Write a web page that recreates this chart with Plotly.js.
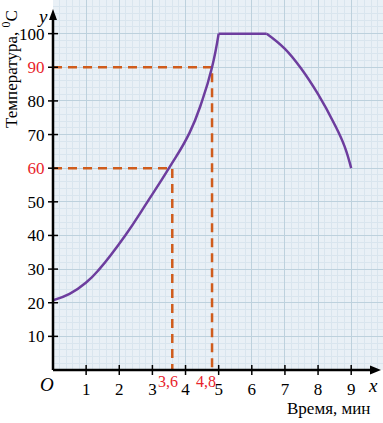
<!DOCTYPE html>
<html>
<head>
<meta charset="utf-8">
<script src="https://cdn.plot.ly/plotly-3.0.1.min.js"></script>
<style>html,body{margin:0;padding:0;background:#fff;}#chart{width:383px;height:423px;}</style>
</head>
<body>
<div id="chart"></div>
<script>
// Heating curve: rising part, plateau, falling part
const riseX = [0, 0.5, 1, 1.4, 2.18, 2.85, 3.5, 4.12, 4.5, 4.8, 5];
const riseY = [20.7, 22.6, 26, 30, 40, 50, 60, 70.5, 80, 90, 100];
const plateauX = [5, 6.45];
const plateauY = [100, 100];
const fallX = [6.45, 7, 7.5, 8, 8.5, 8.8, 9];
const fallY = [100, 95.5, 89.5, 82, 73, 66.5, 60];

// Read-off markers
const markX = [3.6, 4.8];
const markY = [60, 90];
const markXLabels = ['3,6', '4,8'];

// Tick labels
const xTickVals = [1, 2, 3, 4, 5, 6, 7, 8, 9];
const yTickVals = [10, 20, 30, 40, 50, 60, 70, 80, 90, 100];

const xTitle = 'Время, мин';
const yTitle = 'Температура, <sup>0</sup>C';

const RED = '#e8232b';
const ORANGE = '#cf5c1c';
const PURPLE = '#6d3d9e';
const SERIF = '"Liberation Serif", "Times New Roman", serif';

const yTickText = yTickVals.map(v => markY.includes(v) ? '<span style="color:' + RED + '">' + v + '</span>' : String(v));

const traces = [];
// dashed guide lines
markX.forEach((mx, i) => {
  traces.push({
    x: [0, mx, mx], y: [markY[i], markY[i], 0],
    mode: 'lines', line: {color: ORANGE, width: 2.5, dash: '9px,6px'},
    hoverinfo: 'skip', showlegend: false, cliponaxis: false
  });
});
traces.push({x: riseX, y: riseY, mode: 'lines', line: {color: PURPLE, width: 2.5, shape: 'spline', smoothing: 1.3}, showlegend: false});
traces.push({x: plateauX, y: plateauY, mode: 'lines', line: {color: PURPLE, width: 2.5}, showlegend: false});
traces.push({x: fallX, y: fallY, mode: 'lines', line: {color: PURPLE, width: 2.5, shape: 'spline', smoothing: 1.2}, showlegend: false});

const W = 383, H = 423, ML = 53, MB = 53;
const PW = W - ML, PH = H - MB;

const shapes = [];
// axis lines
shapes.push({type: 'line', xref: 'paper', yref: 'paper', x0: 0, x1: (375 - ML) / PW, y0: 0, y1: 0, line: {color: '#000', width: 2.5}, layer: 'above'});
shapes.push({type: 'line', xref: 'paper', yref: 'paper', x0: 0, x1: 0, y0: 0, y1: (PH - 16) / PH, line: {color: '#000', width: 2.5}, layer: 'above'});
// arrowheads
const ax = (381 - ML) / PW, ah = 11 / PW, aw = 4.5 / PH;
shapes.push({type: 'path', xref: 'paper', yref: 'paper', path: `M ${ax} 0 L ${ax - ah} ${aw} L ${ax - ah} ${-aw} Z`, fillcolor: '#000', line: {width: 0}, layer: 'above'});
const ay = (PH - 9) / PH, bh = 11 / PH, bw = 4 / PW;
shapes.push({type: 'path', xref: 'paper', yref: 'paper', path: `M 0 ${ay} L ${bw} ${ay - bh} L ${-bw} ${ay - bh} Z`, fillcolor: '#000', line: {width: 0}, layer: 'above'});
// tick marks crossing the axes
yTickVals.forEach(v => shapes.push({type: 'line', xref: 'paper', yref: 'y', x0: -5 / PW, x1: 5 / PW, y0: v, y1: v, line: {color: '#000', width: 1.5}, layer: 'above'}));
xTickVals.forEach(v => shapes.push({type: 'line', xref: 'x', yref: 'paper', x0: v, x1: v, y0: -5 / PH, y1: 5 / PH, line: {color: '#000', width: 1.5}, layer: 'above'}));

const annotations = [];
const ann = (o) => annotations.push(Object.assign({showarrow: false, xanchor: 'center', yanchor: 'middle'}, o));
markX.forEach((mx, i) => {
  ann({x: mx, y: 0, xref: 'x', yref: 'paper', text: markXLabels[i],
    xshift: i === 0 ? -4 : -6, yshift: -11, font: {family: SERIF, size: 16, color: RED}});
});
ann({x: 0, y: 0, xref: 'paper', yref: 'paper', text: '<i>O</i>', xshift: -6, yshift: -14, font: {family: SERIF, size: 19, color: '#000'}});
ann({x: (373 - ML) / PW, y: 0, xref: 'paper', yref: 'paper', text: '<i>x</i>', yshift: -15, font: {family: SERIF, size: 19, color: '#000'}});
ann({x: 0, y: 1, xref: 'paper', yref: 'paper', text: '<i>y</i>', xshift: -11, yshift: -16, font: {family: SERIF, size: 19, color: '#000'}});
ann({x: (328 - ML) / PW, y: 0, xref: 'paper', yref: 'paper', text: xTitle, yshift: -38, font: {family: SERIF, size: 17, color: '#000'}});
ann({x: 0, y: 1 - 69 / PH, xref: 'paper', yref: 'paper', text: yTitle, textangle: -90, xshift: -43, font: {family: SERIF, size: 17, color: '#000'}});

const layout = {
  width: W, height: H,
  margin: {l: ML, r: 0, t: 0, b: MB, pad: 0},
  paper_bgcolor: '#ffffff',
  plot_bgcolor: '#e9f0f6',
  showlegend: false,
  xaxis: {
    range: [0, 9.96], tickvals: xTickVals, ticktext: xTickVals.map(String),
    ticks: 'outside', ticklen: 4, tickwidth: 0, tickcolor: 'rgba(0,0,0,0)',
    showline: false, zeroline: false,
    showgrid: true, gridcolor: '#bdd1dd', gridwidth: 1,
    minor: {dtick: 0.2, tick0: 0, showgrid: true, gridcolor: '#d9e5ee', gridwidth: 1},
    tickfont: {family: SERIF, size: 17, color: '#000'}, fixedrange: true
  },
  yaxis: {
    range: [0, 110], tickvals: yTickVals, ticktext: yTickText,
    ticks: 'outside', ticklen: 4, tickwidth: 0, tickcolor: 'rgba(0,0,0,0)',
    showline: false, zeroline: false,
    showgrid: true, gridcolor: '#bdd1dd', gridwidth: 1,
    minor: {dtick: 2, tick0: 0, showgrid: true, gridcolor: '#d9e5ee', gridwidth: 1},
    tickfont: {family: SERIF, size: 17, color: '#000'}, fixedrange: true
  },
  shapes: shapes,
  annotations: annotations
};

Plotly.newPlot('chart', traces, layout, {staticPlot: true, displayModeBar: false});
</script>
</body>
</html>
